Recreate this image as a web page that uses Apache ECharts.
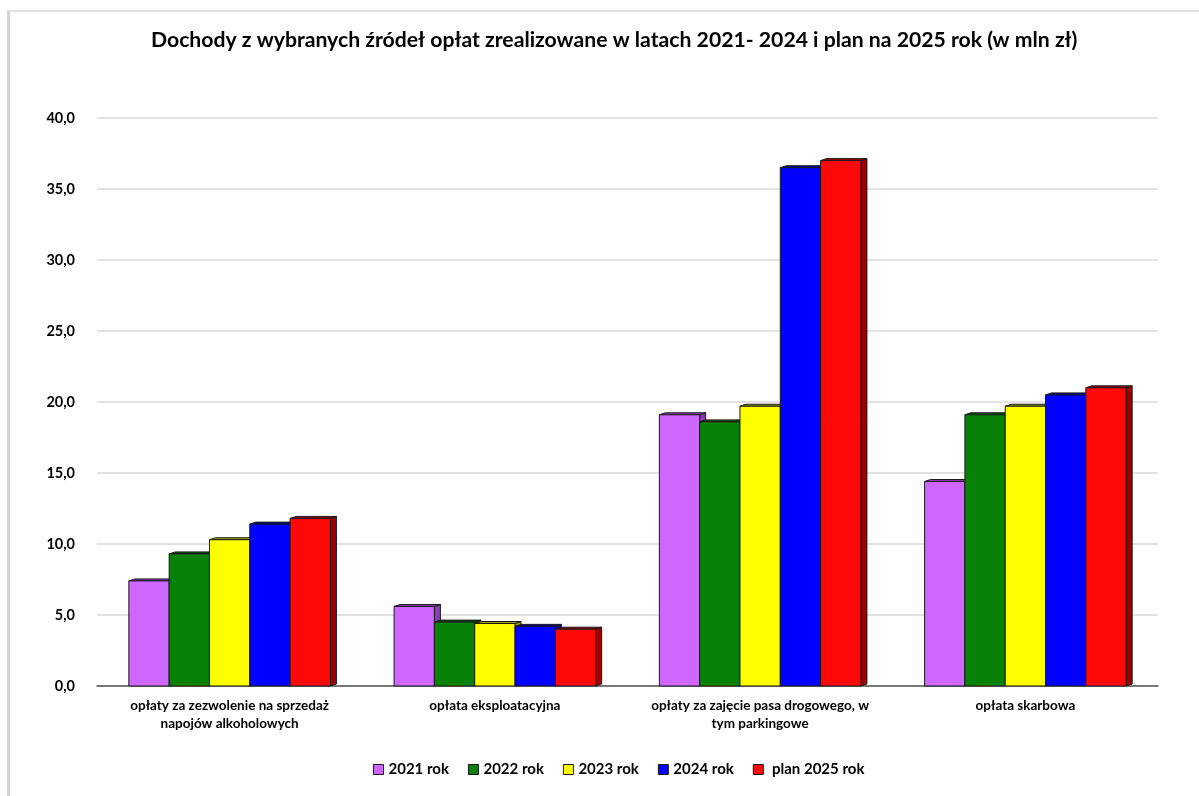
<!DOCTYPE html>
<html>
<head>
<meta charset="utf-8">
<script src="https://cdn.jsdelivr.net/npm/echarts@6/dist/echarts.min.js"></script>
<style>
html,body{margin:0;padding:0;background:#fff;}
#frame{position:absolute;left:7px;top:10px;width:1192px;height:786px;border-left:3px solid #d4d4d4;border-top:2px solid #e0e0e0;box-sizing:border-box;}
#chart{position:absolute;left:0;top:0;width:1199px;height:796px;}
</style>
</head>
<body>
<div id="frame"></div>
<div id="chart"></div>
<script>
var categories = [
  "opłaty za zezwolenie na sprzedaż\nnapojów alkoholowych",
  "opłata eksploatacyjna",
  "opłaty za zajęcie pasa drogowego, w\ntym parkingowe",
  "opłata skarbowa"
];
var seriesNames = ["2021 rok", "2022 rok", "2023 rok", "2024 rok", "plan 2025 rok"];
var v2021 = [7.4, 5.6, 19.1, 14.4];
var v2022 = [9.3, 4.5, 18.6, 19.1];
var v2023 = [10.3, 4.4, 19.7, 19.7];
var v2024 = [11.4, 4.2, 36.5, 20.5];
var v2025 = [11.8, 4.0, 37.0, 21.0];
var yTicks = [0, 5, 10, 15, 20, 25, 30, 35, 40];

var colors = ["#cf66ff", "#078207", "#ffff00", "#0000ff", "#ff0808"];
var sideColors = ["#8a3fb0", "#045004", "#a0a000", "#00009a", "#a00000"];
var allValues = [v2021, v2022, v2023, v2024, v2025];
var nSeries = allValues.length;
var groupFrac = 0.76;

function makeRender(sIdx) {
  return function (params, api) {
    var catIdx = api.value(0), val = api.value(1);
    var base = api.coord([catIdx, 0]);
    var topPt = api.coord([catIdx, val]);
    var band = api.size([1, 0])[0];
    var bw = band * groupFrac / nSeries;
    var x = base[0] - (nSeries / 2) * bw + sIdx * bw;
    var top = topPt[1], bot = base[1];
    var d = 6, dy = 2;
    var stroke = {stroke: '#1a1a1a', lineWidth: 1};
    return {
      type: 'group',
      children: [
        {type: 'polygon', shape: {points: [[x + bw, top], [x + bw + d, top - dy], [x + bw + d, bot - dy], [x + bw, bot]]},
         style: Object.assign({fill: sideColors[sIdx]}, stroke)},
        {type: 'polygon', shape: {points: [[x, top], [x + d, top - dy], [x + bw + d, top - dy], [x + bw, top]]},
         style: Object.assign({fill: sideColors[sIdx]}, stroke)},
        {type: 'rect', shape: {x: x, y: top, width: bw, height: bot - top},
         style: Object.assign({fill: colors[sIdx]}, stroke)}
      ]
    };
  };
}

var series = allValues.map(function (vals, i) {
  return {
    name: seriesNames[i],
    type: 'custom',
    renderItem: makeRender(i),
    encode: {x: 0, y: 1},
    data: vals.map(function (v, k) { return [k, v]; }),
    itemStyle: {color: colors[i]}
  };
});

var chart = echarts.init(document.getElementById('chart'));
chart.setOption({
  animation: false,
  backgroundColor: 'transparent',
  title: {
    text: "Dochody z wybranych źródeł opłat zrealizowane w latach 2021- 2024 i plan na 2025 rok (w mln zł)",
    left: 146,
    top: 25,
    textStyle: {fontFamily: 'Lato', fontWeight: 'bold', fontSize: 21.2, color: '#000'}
  },
  legend: {
    bottom: 14,
    left: 368,
    itemWidth: 10,
    itemHeight: 10,
    itemGap: 19,
    icon: 'rect',
    formatter: function (n) { return n === 'plan 2025 rok' ? ' ' + n : n; },
    data: seriesNames.map(function (n, i) {
      return {name: n, itemStyle: {color: colors[i], borderColor: '#1a1a1a', borderWidth: 1}};
    }),
    textStyle: {fontFamily: 'Lato', fontWeight: 'bold', fontSize: 15, color: '#000'}
  },
  grid: {left: 97, right: 41, top: 118, bottom: 110, containLabel: false},
  xAxis: {
    type: 'category',
    data: categories,
    axisLine: {show: true, lineStyle: {color: '#555', width: 1.5}},
    axisTick: {show: false},
    axisLabel: {
      fontFamily: 'Lato', fontWeight: 'bold', fontSize: 13.5, color: '#000',
      margin: 11, lineHeight: 18, interval: 0
    }
  },
  yAxis: {
    type: 'value',
    min: yTicks[0],
    max: yTicks[yTicks.length - 1],
    interval: 5,
    axisLine: {show: false},
    axisTick: {show: false},
    splitLine: {lineStyle: {color: '#d9d9d9', width: 1.5}},
    axisLabel: {
      fontFamily: 'Lato', fontWeight: 'bold', fontSize: 14.5, color: '#000', margin: 22,
      formatter: function (v) { return v.toFixed(1).replace('.', ','); }
    }
  },
  series: series
});
</script>
</body>
</html>
